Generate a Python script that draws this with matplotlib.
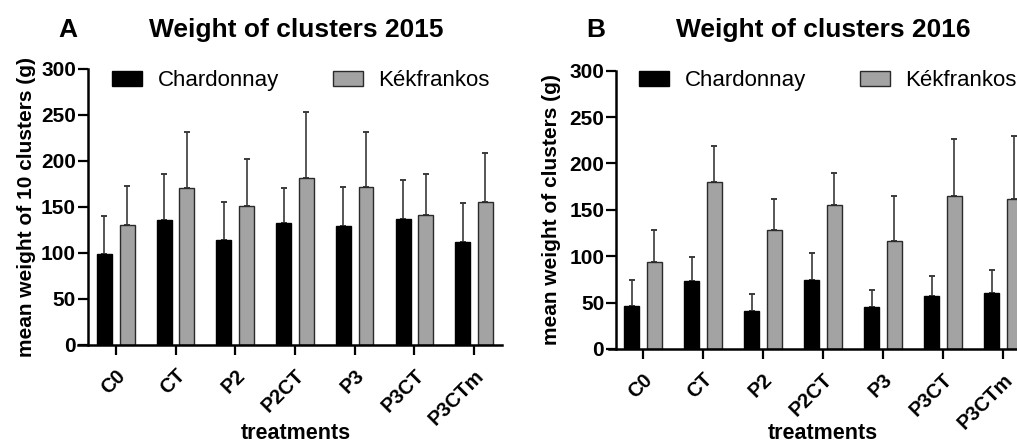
import numpy as np
import matplotlib
matplotlib.use("Agg")
import matplotlib.pyplot as plt

plt.rcParams['font.family'] = ['Liberation Sans', 'DejaVu Sans']

treatments = ['C0', 'CT', 'P2', 'P2CT', 'P3', 'P3CT', 'P3CTm']
varieties = ['Chardonnay', 'Kékfrankos']
yticks = [0, 50, 100, 150, 200, 250, 300]

# 2015, mean weight of 10 clusters (g) and SD
chard_2015 = [98.6, 135.5, 114.5, 132.2, 129.0, 136.6, 111.6]
chard_2015_sd = [42.0, 50.7, 40.5, 38.1, 42.7, 43.1, 42.4]
kek_2015 = [130.4, 171.0, 151.0, 181.5, 171.4, 141.0, 155.4]
kek_2015_sd = [42.4, 60.0, 51.5, 71.4, 59.6, 44.5, 53.6]

# 2016, mean weight of clusters (g) and SD
chard_2016 = [46.0, 73.0, 41.3, 74.0, 45.0, 57.5, 60.4]
chard_2016_sd = [28.0, 26.2, 17.7, 29.8, 18.2, 20.8, 24.4]
kek_2016 = [93.8, 179.7, 128.0, 154.9, 116.0, 165.0, 161.7]
kek_2016_sd = [34.2, 39.1, 34.0, 34.8, 49.0, 61.0, 67.9]

W, H = 1017, 443
fig = plt.figure(figsize=(W / 100, H / 100), dpi=100)

BLACK = '#000000'
GREY = '#a3a3a3'
EDGE = '#2a2a2a'
ERR = '#3a3a3a'


def panel(rect, chard, chard_sd, kek, kek_sd, ylabel, spine_x, xlim, legend_x, legend_y):
    ax = fig.add_axes(rect)
    # spine placement first: moving a spine resets the tick objects
    for s in ['top', 'right']:
        ax.spines[s].set_visible(False)
    ax.spines['left'].set_position(('data', spine_x))
    ax.spines['left'].set_linewidth(1.8)
    ax.spines['bottom'].set_linewidth(1.8)

    x = np.arange(len(treatments))
    w = 0.25
    off = 0.19
    ax.bar(x - off, chard, w, color=BLACK, edgecolor=BLACK, linewidth=1.0,
           label=varieties[0], zorder=2)
    ax.bar(x + off, kek, w, color=GREY, edgecolor=EDGE, linewidth=1.0,
           label=varieties[1], zorder=2)
    # error bars drawn above the bars only
    ax.errorbar(x - off, chard, yerr=[np.zeros(len(chard)), chard_sd], fmt='none',
                ecolor=ERR, elinewidth=1.2, capsize=2.5, capthick=1.4, zorder=1)
    ax.errorbar(x + off, kek, yerr=[np.zeros(len(kek)), kek_sd], fmt='none',
                ecolor=ERR, elinewidth=1.2, capsize=2.5, capthick=1.4, zorder=1)

    ax.set_xlim(*xlim)
    ax.set_ylim(0, 300)
    ax.set_yticks(yticks, labels=[str(v) for v in yticks], fontsize=15, fontweight='bold')
    ax.set_xticks(x)
    ax.set_xticklabels(treatments, rotation=45, ha='right', rotation_mode='anchor',
                       fontsize=14.5, fontweight='bold')
    ax.tick_params(axis='both', direction='out', length=7, width=1.6, color='black')
    ax.tick_params(axis='x', pad=8)
    ax.tick_params(axis='y', pad=1.5)

    ax.set_ylabel(ylabel, fontsize=15, fontweight='bold')
    ax.set_xlabel('treatments', fontsize=15.5, fontweight='bold')

    ax.legend(loc='center left', bbox_to_anchor=(legend_x, legend_y), ncol=2,
              frameon=False, fontsize=16, handlelength=1.35, handleheight=0.7,
              handletextpad=0.72, columnspacing=2.4, borderpad=0, borderaxespad=0)
    return ax


def to_rect(left_px, right_px, bottom_px, top_px):
    return [left_px / W, 1 - bottom_px / H, (right_px - left_px) / W, (bottom_px - top_px) / H]


axA = panel(to_rect(78, 502, 345, 69), chard_2015, chard_2015_sd, kek_2015, kek_2015_sd,
            'mean weight of 10 clusters (g)', -0.467, (-0.633, 6.467), 0.080, 0.958)
axA.yaxis.set_label_coords((36 - 78) / 424, 0.5)
axA.xaxis.set_label_coords((296 - 78) / 424, (345 - 423) / 276)

axB = panel(to_rect(609, 1031, 349, 70.7), chard_2016, chard_2016_sd, kek_2016, kek_2016_sd,
            'mean weight of clusters (g)', -0.45, (-0.567, 6.467), 0.071, 0.963)
axB.yaxis.set_label_coords((561 - 609) / 422, 0.5)
axB.xaxis.set_label_coords((823 - 609) / 422, (349 - 423) / 278.3)

# panel letters and titles
fig.text(68 / W, 1 - 37 / H, 'A', fontsize=19, fontweight='bold', ha='center', va='baseline')
fig.text(296 / W, 1 - 37 / H, 'Weight of clusters 2015', fontsize=19, fontweight='bold',
         ha='center', va='baseline')
fig.text(596 / W, 1 - 37 / H, 'B', fontsize=19, fontweight='bold', ha='center', va='baseline')
fig.text(823 / W, 1 - 37 / H, 'Weight of clusters 2016', fontsize=19, fontweight='bold',
         ha='center', va='baseline')

fig.savefig('out.png', dpi=100)
